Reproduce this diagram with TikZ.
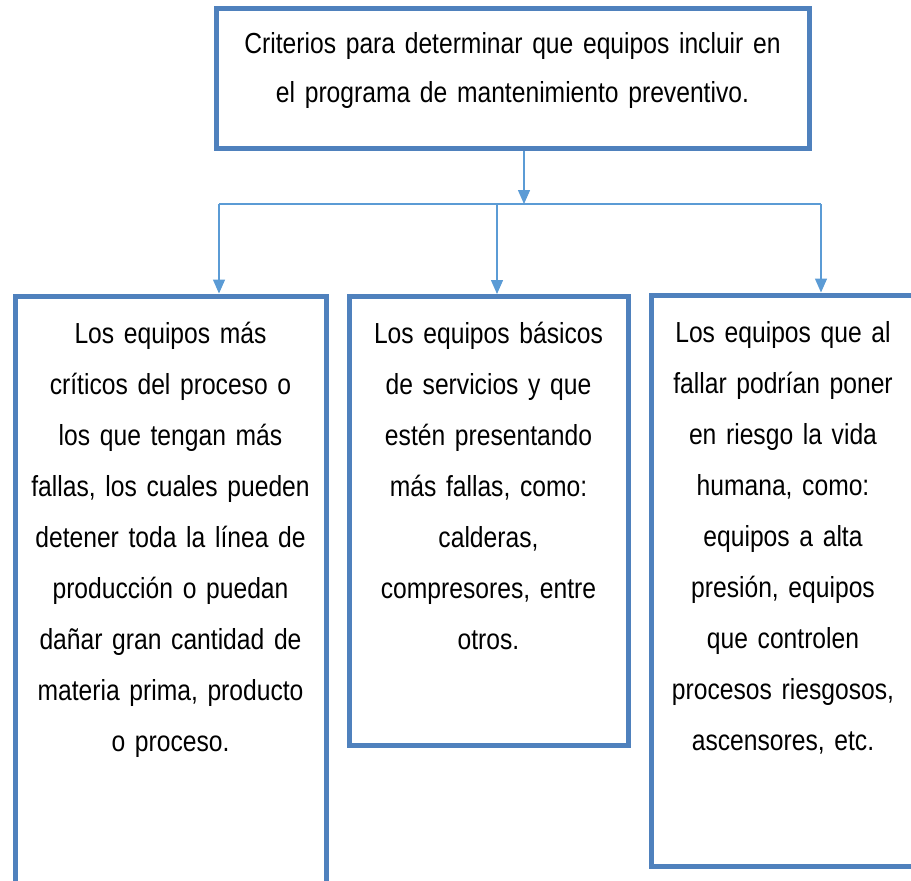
\documentclass[tikz,border=0pt]{standalone}
\usepackage{fontspec}
\setmainfont[FakeStretch=0.85]{Liberation Sans}
\usetikzlibrary{arrows.meta,positioning}
\definecolor{boxblue}{HTML}{4F81BD}
\definecolor{linkblue}{HTML}{5B9BD5}

\begin{document}
\begin{tikzpicture}[x=1pt, y=-1pt,
    box/.style={draw=boxblue, line width=5pt, rectangle, inner sep=0pt},
    txt/.style={align=center, inner sep=0pt, font=\fontsize{29}{51}\selectfont},
    link/.style={draw=linkblue, line width=1.4pt, -{Triangle[width=12pt,length=14pt]}}]
    \useasboundingbox (0,0) rectangle (911,881);
    \clip (0,0) rectangle (911,881);
    % boxes
    \node[box, minimum width=593pt, minimum height=140pt] (top) at (512.5,78) {};
    \node[box, minimum width=311pt, minimum height=614pt] (proc) at (170.5,603) {};
    \node[box, minimum width=279pt, minimum height=449pt] (serv) at (488.5,521) {};
    \node[box, minimum width=264pt, minimum height=571pt] (vida) at (783,580.5) {};
    % texts
    \node[txt, text width=580pt, font=\fontsize{29}{49.5}\selectfont, below=13pt of top.north] (toptxt)
        {\strut Criterios para determinar que equipos incluir en\\el programa de mantenimiento preventivo.};
    \node[txt, text width=300pt, below=14pt of proc.north] (proctxt)
        {\strut Los equipos más\\críticos del proceso o\\los que tengan más\\fallas, los cuales pueden\\detener toda la línea de\\producción o puedan\\dañar gran cantidad de\\materia prima, producto\\o proceso.};
    \node[txt, text width=268pt, below=14pt of serv.north] (servtxt)
        {\strut Los equipos básicos\\de servicios y que\\estén presentando\\más fallas, como:\\calderas,\\compresores, entre\\otros.};
    \node[txt, text width=254pt, below=14pt of vida.north] (vidatxt)
        {\strut Los equipos que al\\fallar podrían poner\\en riesgo la vida\\humana, como:\\equipos a alta\\presión, equipos\\que controlen\\procesos riesgosos,\\ascensores, etc.};
    % connectors
    \coordinate (split) at (524,204);
    \coordinate (left) at (219,204);
    \coordinate (mid) at (497,204);
    \coordinate (right) at (821,204);
    \draw[link] (top.south -| split) -- (split);
    \draw[draw=linkblue, line width=1.4pt] (left) -- (right);
    \draw[link] (left) -- (left |- proc.north);
    \draw[link] (mid) -- (mid |- serv.north);
    \draw[link] (right) -- (right |- vida.north);
\end{tikzpicture}
\end{document}
